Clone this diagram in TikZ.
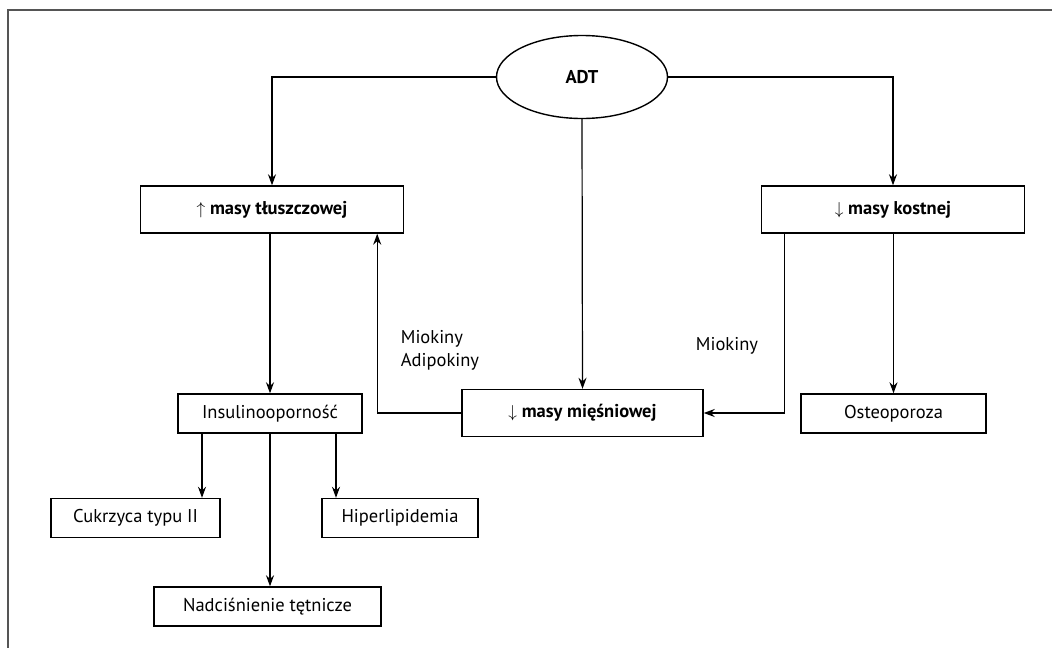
\documentclass[tikz,border=0pt]{standalone}
\usepackage{fontspec}
\setmainfont{PT Sans}
\usetikzlibrary{shapes.geometric,arrows.meta}
\definecolor{frame}{RGB}{85,85,85}

\begin{document}
\begin{tikzpicture}[%
        x=1pt, y=-1pt, line width=1.2pt,
        every node/.style={font=\fontsize{18.5}{22}\selectfont},
        basic/.style={draw, line width=1.4pt, inner sep=0pt, align=center},
        mass/.style={basic, minimum height=47pt, font=\fontsize{18.5}{22}\selectfont\bfseries},
        effect/.style={basic, minimum height=39pt},
        dep/.style={-{Stealth[length=11pt,width=8pt]}}
        ]
        \useasboundingbox (0,0) rectangle (1052,648);
        \draw[frame, line width=1.6pt] (1052,10) -- (8,10) -- (8,648);
        \node[ellipse, draw, line width=1.4pt, inner sep=0pt, minimum width=171pt, minimum height=83pt, font=\fontsize{18.5}{22}\selectfont\bfseries] (adt) at (582,77) {ADT};
        \node[mass, minimum width=263pt] (fat) at (272,209.5) {$\uparrow$ masy tłuszczowej};
        \node[mass, minimum width=263pt] (bone) at (893,209.5) {$\downarrow$ masy kostnej};
        \node[mass, minimum width=241pt] (mus) at (582.5,413) {$\downarrow$ masy mięśniowej};
        \node[effect, minimum width=184pt] (ins) at (270,413.5) {Insulinooporność};
        \node[effect, minimum width=185pt] (ost) at (893.5,413.5) {Osteoporoza};
        \node[effect, minimum width=169pt] (dia) at (135.5,518) {Cukrzyca typu II};
        \node[effect, minimum width=156pt] (lip) at (400,518) {Hiperlipidemia};
        \node[effect, minimum width=227pt] (hyp) at (267.5,606.5) {Nadciśnienie tętnicze};
        \node[align=left, font=\fontsize{18.5}{23}\selectfont] (adipo) at (440,350) {Miokiny\\Adipokiny};
        \node (myo) at (727,346) {Miokiny};
        \draw[dep] (adt.west) -| (fat.north);
        \draw[dep] (adt.east) -| (bone.north);
        \draw[dep] (adt.south) -- (mus.north);
        \draw[dep] (fat.south -| ins.north) -- (ins.north);
        \draw[dep] (mus.west) -| ([xshift=-27pt]fat.south east);
        \draw[dep] ([xshift=24pt]bone.south west) |- (mus.east);
        \draw[dep] (bone.south -| ost.north) -- (ost.north);
        \draw[dep] ([xshift=-68pt]ins.south) -- ([xshift=-68pt]ins.south |- dia.north);
        \draw[dep] ([xshift=66pt]ins.south) -- ([xshift=66pt]ins.south |- lip.north);
        \draw[dep] (ins.south) -- (ins.south |- hyp.north);
    \end{tikzpicture}
\end{document}
